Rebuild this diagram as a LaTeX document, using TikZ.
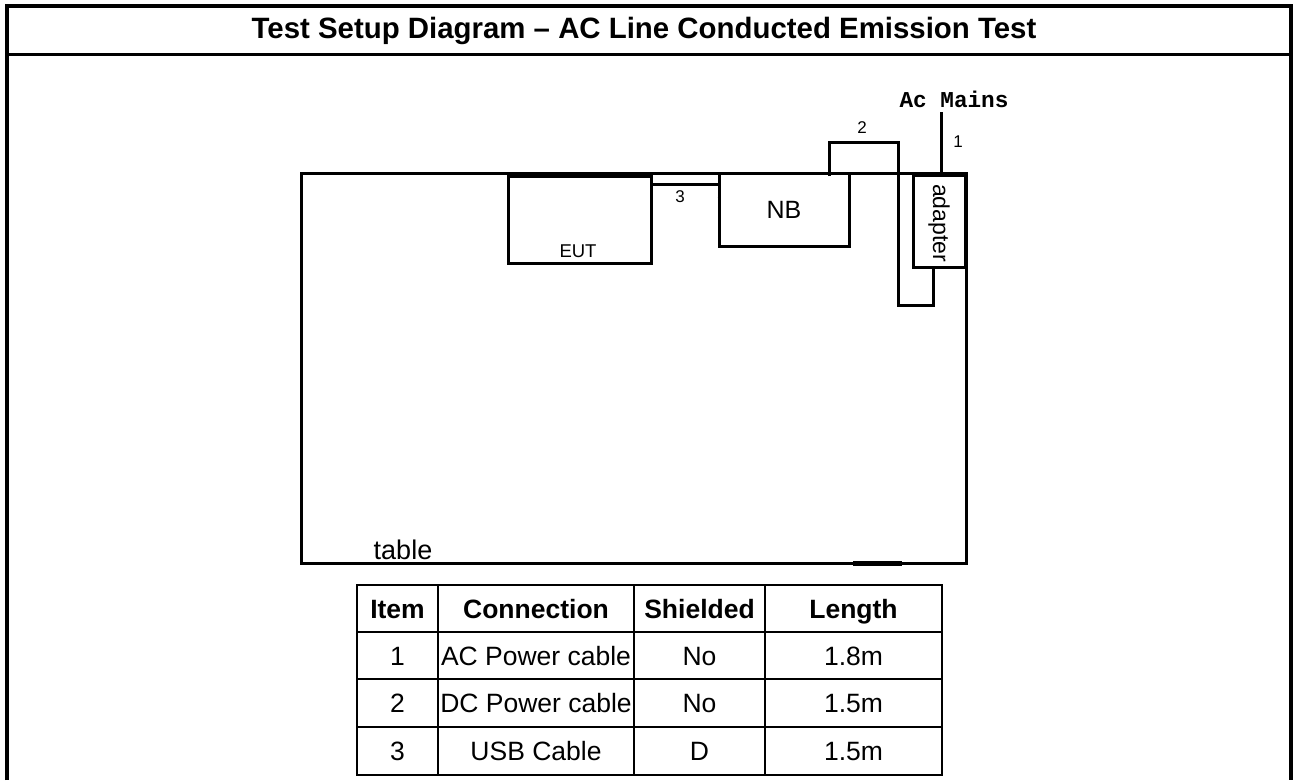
\documentclass[tikz,border=0pt]{standalone}
\usepackage{fontspec}
\setmainfont{Liberation Sans}
\newfontfamily\monofont{Liberation Mono}
\begin{document}
\begin{tikzpicture}[x=1pt,y=-1pt,line join=miter,
  frame/.style={line width=3.5pt},
  box/.style={draw,line width=3pt,inner sep=0pt},
  wire/.style={line width=3pt},
  cell/.style={inner sep=0pt,anchor=base,font=\fontsize{26.5}{28}\selectfont},
  hcell/.style={cell,font=\fontsize{26.5}{28}\selectfont\bfseries},
  lbl/.style={inner sep=0pt,font=\fontsize{17}{19}\selectfont}]
\useasboundingbox (0,0) rectangle (1293,780);
% outer frame
\draw[frame] (7,780) -- (7,6) -- (1291,6) -- (1291,780);
\draw[frame] (7,54.5) -- (1291,54.5);
\node[inner sep=0pt,font=\fontsize{29.4}{31}\selectfont\bfseries] (title) at (644,31)
  {Test Setup Diagram – AC Line Conducted Emission Test};
% table (furniture)
\node[box,minimum width=665pt,minimum height=390pt] (table) at (633.5,368) {};
\node[inner sep=0pt,font=\fontsize{27}{29}\selectfont] (tablelbl) at (403,550) {table};
\draw[line width=5pt] (853,563) -- (902,563);
% EUT
\node[box,minimum width=143pt,minimum height=87pt] (eut) at (579.5,219.5) {};
\node[inner sep=0pt,font=\fontsize{18.5}{20}\selectfont] (eutlbl) at (578,251) {EUT};
% NB
\node[box,minimum width=130pt,minimum height=73pt,font=\fontsize{25}{27}\selectfont] (nb) at (784,210) {NB};
% adapter
\node[box,minimum width=52pt,minimum height=92pt] (adapter) at (939,221) {};
\node[inner sep=0pt,rotate=-90,font=\fontsize{23}{25}\selectfont] (adlbl) at (939,223) {adapter};
% cable 3 (USB)
\coordinate (c3) at (0,184);
\draw[wire] (eut.east |- c3) -- (nb.west |- c3);
\draw[wire] (nb.west |- 0,198) -- ++(3,0);
\node[lbl] (l3) at (680,197) {3};
% cable 2 (DC)
\coordinate (c2a) at (829,176);
\coordinate (c2b) at (898,142);
\coordinate (c2c) at (933,305);
\draw[wire] (c2a) -- (c2a |- c2b) -- (c2b) -- (c2b |- c2c) -- (c2c) -- (c2c |- adapter.south);
\node[lbl] (l2) at (862,128) {2};
% cable 1 (AC)
\coordinate (mains) at (941,112);
\draw[wire] (mains) -- (mains |- table.north);
\node[lbl] (l1) at (958,142) {1};
\node[inner sep=0pt,font=\monofont\bfseries\fontsize{22.7}{24}\selectfont] (acm) at (954,99) {Ac Mains};
% item table
\def\xa{357}\def\xb{438}\def\xc{634}\def\xd{765}\def\xe{942}
\draw[line width=2pt] (\xa,585) rectangle (\xe,775);
\foreach \y in {632,679,727} \draw[line width=2pt] (\xa,\y) -- (\xe,\y);
\foreach \x in {\xb,\xc,\xd} \draw[line width=2pt] (\x,585) -- (\x,775);
\node[hcell] (h1) at (397.5,618) {Item};
\node[hcell] (h2) at (536,618) {Connection};
\node[hcell] (h3) at (699.5,618) {Shielded};
\node[hcell] (h4) at (853.5,618) {Length};
\node[cell] (a1) at (397.5,665) {1};
\node[cell] (a2) at (536,665) {AC Power cable};
\node[cell] (a3) at (699.5,665) {No};
\node[cell] (a4) at (853.5,665) {1.8m};
\node[cell] (b1) at (397.5,712.5) {2};
\node[cell] (b2) at (536,712.5) {DC Power cable};
\node[cell] (b3) at (699.5,712.5) {No};
\node[cell] (b4) at (853.5,712.5) {1.5m};
\node[cell] (d1) at (397.5,760.5) {3};
\node[cell] (d2) at (536,760.5) {USB Cable};
\node[cell] (d3) at (699.5,760.5) {D};
\node[cell] (d4) at (853.5,760.5) {1.5m};
\end{tikzpicture}
\end{document}
